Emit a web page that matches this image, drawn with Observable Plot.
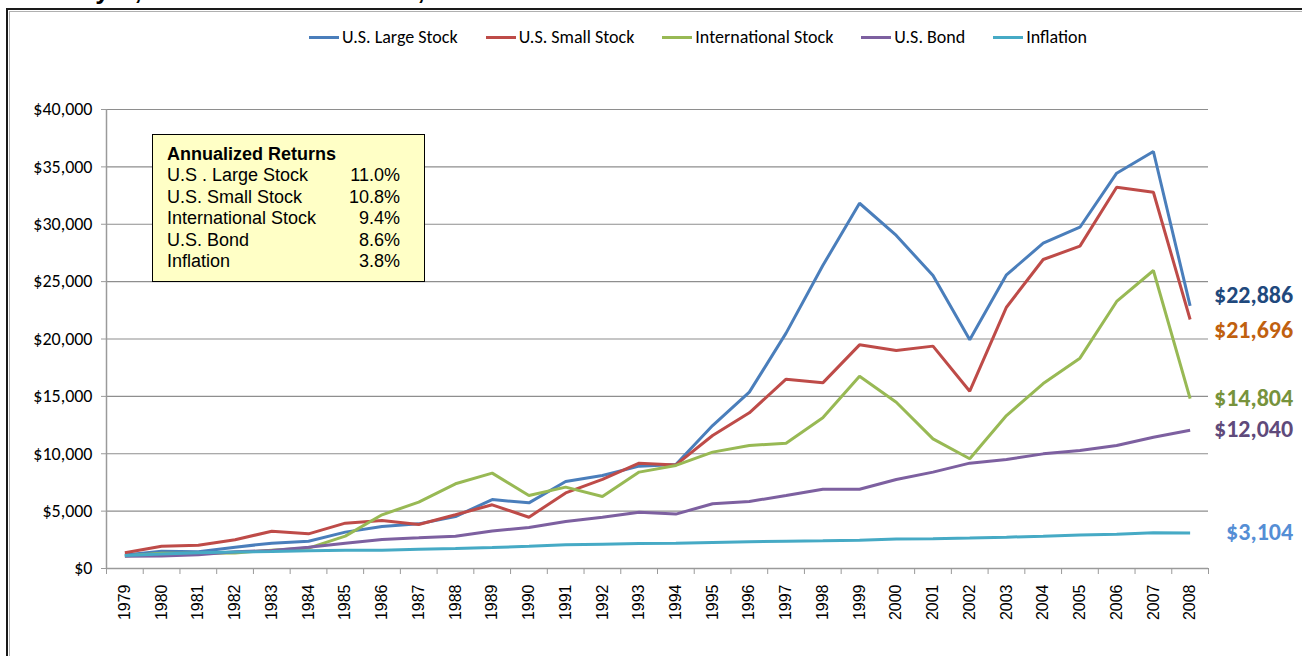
<!DOCTYPE html>
<html>
<head>
<meta charset="utf-8">
<script src="https://cdn.jsdelivr.net/npm/d3@7"></script>
<script src="https://cdn.jsdelivr.net/npm/@observablehq/plot@0.6"></script>
<style>
  html, body { margin: 0; padding: 0; background: #fff; overflow: hidden; }
  #wrap { position: relative; width: 1302px; height: 656px; overflow: hidden; background: #fff; }
  #title { position: absolute; left: 4px; top: -25px; font: bold 26px "Liberation Sans", Arial, sans-serif; color: #000; white-space: nowrap; letter-spacing: 1px; }
  #frameOuter { position: absolute; left: 6px; top: 8px; width: 1400px; height: 800px; border-left: 2px solid #1a1a1a; border-top: 2px solid #1a1a1a; }
  #frameInner { position: absolute; left: 9px; top: 11px; width: 1400px; height: 800px; border-left: 1px solid #b0b0b0; border-top: 1px solid #b0b0b0; }
  #chart { position: absolute; left: 0; top: 0; }
  #legend { position: absolute; left: 309px; top: 26px; display: flex; gap: 28px; font: 18px Carlito, Lato, sans-serif; color: #000; white-space: nowrap; }
  .item { display: flex; align-items: center; gap: 3px; height: 22px; }
  .sw { width: 30px; height: 3px; }
  #box { position: absolute; left: 152px; top: 134px; width: 273px; height: 148px; box-sizing: border-box; background: #FFFFC6; border: 1.5px solid #000; font: 18px "Liberation Sans", Arial, sans-serif; color: #000; padding: 9px 0 0 14px; }
  #box .row { position: relative; height: 21.4px; line-height: 21.4px; white-space: nowrap; }
  #box .hdr { font-weight: bold; }
  #box .val { position: absolute; right: 24px; top: 0; }
</style>
</head>
<body>
<div id="wrap">
  <div id="title"></div>
  <div id="frameOuter"></div>
  <div id="frameInner"></div>
  <div id="chart"></div>
  <div id="legend"></div>
  <div id="box"></div>
</div>
<script>
const titleText = "January 1, 1979 – December 31, 2008";
const years = [1979,1980,1981,1982,1983,1984,1985,1986,1987,1988,1989,1990,1991,1992,1993,1994,1995,1996,1997,1998,1999,2000,2001,2002,2003,2004,2005,2006,2007,2008];
const seriesNames = ["U.S. Large Stock", "U.S. Small Stock", "International Stock", "U.S. Bond", "Inflation"];
const seriesColors = ["#4A7EBB", "#BE4B48", "#98B954", "#7D60A0", "#46AAC5"];
const largeStock = [1180,1510,1450,1860,2210,2380,3170,3660,3890,4530,6010,5720,7580,8100,8920,9060,12460,15370,20510,26400,31830,29020,25530,19930,25590,28350,29740,34450,36340,22886];
const smallStock = [1370,1940,2030,2500,3250,3020,3950,4180,3830,4680,5550,4470,6590,7760,9180,9030,11590,13570,16500,16180,19490,19000,19380,15450,22770,26930,28090,33230,32790,21696];
const intlStock  = [1080,1330,1320,1360,1600,1780,2820,4680,5780,7380,8310,6360,7090,6270,8400,8980,10140,10720,10920,13130,16760,14490,11300,9560,13330,16120,18330,23270,25970,14804];
const usBond     = [1070,1090,1190,1450,1570,1860,2210,2530,2670,2820,3260,3570,4100,4470,4910,4740,5640,5840,6360,6910,6910,7760,8400,9180,9500,9990,10280,10720,11440,12040];
const inflation  = [1130,1270,1380,1430,1480,1540,1580,1600,1670,1740,1830,1940,2060,2120,2180,2210,2270,2330,2370,2410,2470,2560,2600,2660,2730,2820,2920,2990,3110,3104];
const seriesValues = [largeStock, smallStock, intlStock, usBond, inflation];
const endLabels = ["$22,886", "$21,696", "$14,804", "$12,040", "$3,104"];
const endLabelColors = ["#1F497D", "#C0600F", "#77933C", "#5F4A7B", "#558ED5"];
const endLabelDy = [-11, 11, 0, -1, -1];
const boxTitle = "Annualized Returns";
const boxNames = ["U.S . Large Stock", "U.S. Small Stock", "International Stock", "U.S. Bond", "Inflation"];
const boxReturns = ["11.0%", "10.8%", "9.4%", "8.6%", "3.8%"];
const yTicks = [0,5000,10000,15000,20000,25000,30000,35000,40000];

const axisFont = "Carlito, Lato, sans-serif";
const fmtMoney = d => "$" + d3.format(",")(d);

const rowsFor = (i) => years.map((yr, j) => ({series: seriesNames[i], year: yr, value: seriesValues[i][j]}));
const boundaries = [years[0] - 0.5, ...years.map(y => y + 0.5)];

const lineMarks = seriesNames.map((s, i) =>
  Plot.line(rowsFor(i), {x: "year", y: "value", stroke: seriesColors[i], strokeWidth: 3, strokeLinejoin: "miter", strokeLinecap: "butt"})
);
const labelMarks = endLabels.map((lab, i) =>
  Plot.text([{year: years[years.length - 1], value: seriesValues[i][years.length - 1], label: lab}], {
    x: "year", y: "value", text: "label", fill: endLabelColors[i], dx: 103, dy: endLabelDy[i],
    textAnchor: "end", fontSize: 24, fontWeight: "bold", fontFamily: axisFont
  })
);

const chart = Plot.plot({
  width: 1302,
  height: 656,
  marginLeft: 106,
  marginRight: 94,
  marginTop: 109,
  marginBottom: 88,
  style: {background: "transparent", fontFamily: axisFont, color: "#000", overflow: "visible"},
  x: {type: "linear", domain: [boundaries[0], boundaries[boundaries.length - 1]]},
  y: {domain: [0, 40000]},
  marks: [
    Plot.gridY(yTicks.filter(d => d > 0), {stroke: "#8E8E8E", strokeOpacity: 1, strokeWidth: 1.2}),
    Plot.ruleY([0], {stroke: "#9A9A9A", strokeWidth: 1.5}),
    Plot.ruleX([boundaries[0]], {stroke: "#9A9A9A", strokeWidth: 1.5}),
    Plot.axisY(yTicks, {tickFormat: fmtMoney, tickSize: 5, tickPadding: 9, stroke: "#9A9A9A", fontSize: 18, fontFamily: axisFont, fill: "#000", label: null}),
    Plot.axisX(boundaries, {tickSize: 6, tickFormat: () => "", stroke: "#9A9A9A", label: null}),
    Plot.axisX(years, {tickSize: 0, tickRotate: -90, tickPadding: 16, tickFormat: "d", fontSize: 16, fontFamily: "'Liberation Sans', Arial, sans-serif", fill: "#000", label: null}),
    ...lineMarks,
    ...labelMarks
  ]
});
document.getElementById("chart").appendChild(chart);

document.getElementById("title").textContent = titleText;

const legend = document.getElementById("legend");
seriesNames.forEach((s, i) => {
  const it = document.createElement("div");
  it.className = "item";
  const sw = document.createElement("div");
  sw.className = "sw";
  sw.style.background = seriesColors[i];
  const tx = document.createElement("span");
  tx.textContent = s;
  it.appendChild(sw); it.appendChild(tx);
  legend.appendChild(it);
});

const box = document.getElementById("box");
const hdr = document.createElement("div");
hdr.className = "row hdr";
hdr.textContent = boxTitle;
box.appendChild(hdr);
boxNames.forEach((n, i) => {
  const r = document.createElement("div");
  r.className = "row";
  r.textContent = n;
  const v = document.createElement("span");
  v.className = "val";
  v.textContent = boxReturns[i];
  r.appendChild(v);
  box.appendChild(r);
});
</script>
</body>
</html>
